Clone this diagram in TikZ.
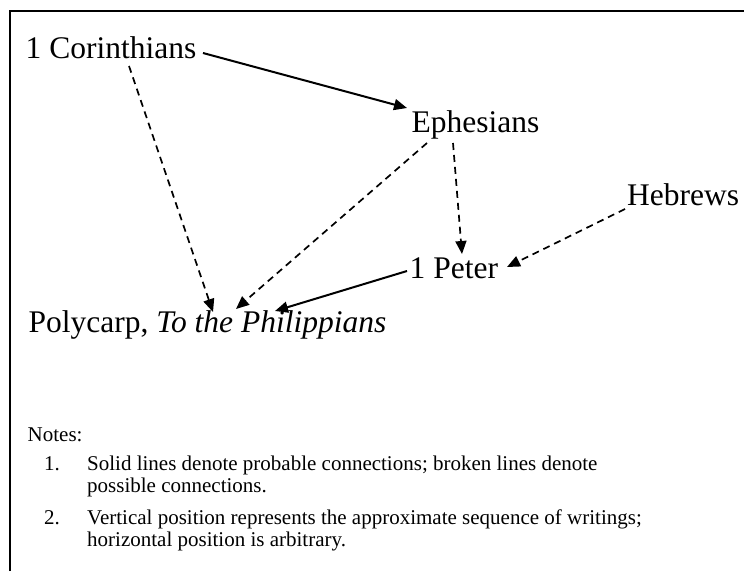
\documentclass[tikz,border=0pt]{standalone}
\usepackage{fontspec}
\setmainfont{Liberation Serif}
\usetikzlibrary{arrows.meta}
\tikzset{
  lbl/.style={inner sep=0pt, anchor=base west, font=\fontsize{31.5}{36}\selectfont},
  note/.style={inner sep=0pt, anchor=base west, font=\fontsize{21}{24}\selectfont},
  conn/.style={line width=2pt, -{Triangle[length=13pt,width=11pt]}},
  maybe/.style={conn, line width=1.7pt, dash pattern=on 7pt off 5pt}
}
\begin{document}
\begin{tikzpicture}[x=1pt,y=-1pt]
\useasboundingbox (0,0) rectangle (744,571);
\draw[line width=2pt] (9.5,571) -- (9.5,11) -- (744,11);

\node[lbl] (cor) at (25.5,58) {1 Corinthians};
\node[lbl] (eph) at (411.5,132) {Ephesians};
\node[lbl] (heb) at (627,205) {Hebrews};
\node[lbl] (pet) at (409.5,278) {1 Peter};
\node[lbl] (pol) at (28.5,332) {Polycarp, \textit{To the Philippians}};

\draw[conn] ([shift={(177.5,-5)}]cor.base west) -- ([shift={(-4.5,-24)}]eph.base west);
\draw[maybe] ([shift={(103.5,8)}]cor.base west) -- ([shift={(184.5,-20)}]pol.base west);
\draw[maybe] ([shift={(15.5,11)}]eph.base west) -- ([shift={(207.5,-23)}]pol.base west);
\draw[maybe] ([shift={(41.5,11)}]eph.base west) -- ([shift={(52.5,-24)}]pet.base west);
\draw[maybe] ([shift={(-2,4)}]heb.base west) -- ([shift={(97.5,-11)}]pet.base west);
\draw[conn] ([shift={(-2.5,-7)}]pet.base west) -- ([shift={(246.5,-21)}]pol.base west);

\node[note] (notes) at (27.5,441) {Notes:};
\node[note] (n1) at (44,470) {1.};
\node[note] (t1a) at (87,470) {Solid lines denote probable connections; broken lines denote};
\node[note] (t1b) at (87,492) {possible connections.};
\node[note] (n2) at (44,524) {2.};
\node[note] (t2a) at (87,524) {Vertical position represents the approximate sequence of writings;};
\node[note] (t2b) at (87,546) {horizontal position is arbitrary.};
\end{tikzpicture}
\end{document}
